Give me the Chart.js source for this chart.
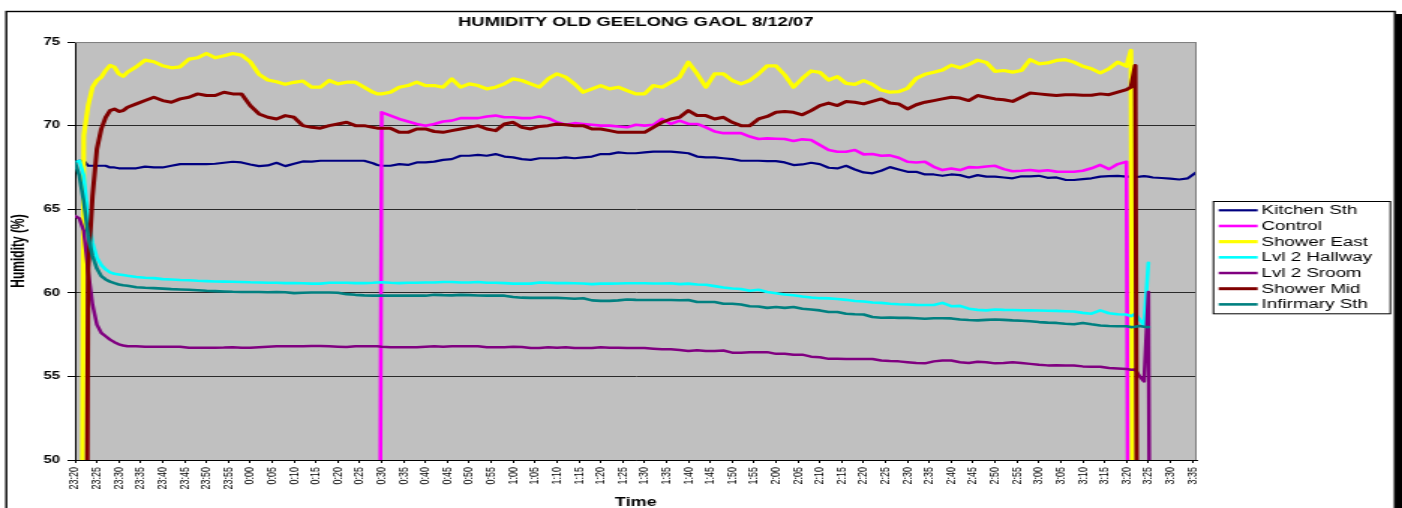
<!DOCTYPE html>
<html>
<head>
<meta charset="utf-8">
<title>Humidity Old Geelong Gaol 8/12/07</title>
<script src="https://cdn.jsdelivr.net/npm/chart.js@4.4.1/dist/chart.umd.min.js"></script>
<style>
    html, body { margin: 0; padding: 0; background: #fff; width: 1402px; height: 508px; overflow: hidden; }
    /* the original picture is a horizontally stretched Excel chart */
    #wrap { position: absolute; left: 0; top: 0; width: 935px; height: 524px; transform: scaleX(1.4995); transform-origin: 0 0; }
</style>
</head>
<body>
<div id="wrap"><canvas id="chart"></canvas></div>
<script>
(function() {
    'use strict';

    // minutes after 23:20
    const times = [
        0, 1, 2, 3, 4, 5, 6, 7, 8, 9, 10, 11, 12,
        14, 16, 18, 20, 22, 24, 26, 28, 30, 32, 34, 36, 38, 40, 42, 44, 46, 48, 50, 52,
        54, 56, 58, 60, 62, 64, 66, 68,
        69,
        70, 72, 74, 76, 78, 80, 82, 84, 86, 88, 90, 92, 94, 96, 98, 100, 102,
        104, 106, 108, 110, 112, 114, 116, 118, 120, 122, 124, 126, 128, 130, 132, 134, 136, 138, 140, 142, 144, 146, 148, 150, 152, 154, 156,
        158, 160, 162, 164, 166, 168, 170, 172, 174, 176, 178, 180, 182, 184, 186, 188, 190, 192, 194, 196, 198, 200, 202, 204, 206, 208,
        210, 212, 214, 216, 218, 220, 222, 224, 226, 228, 230, 232, 234, 236, 238, 240,
        241, 242, 243, 244, 245, 246,
        248, 250, 252, 254, 256
    ];

    const tickLabels = [
        '23:20', '23:25', '23:30', '23:35', '23:40', '23:45', '23:50', '23:55',
        '0:00', '0:05', '0:10', '0:15', '0:20', '0:25', '0:30', '0:35', '0:40', '0:45', '0:50', '0:55',
        '1:00', '1:05', '1:10', '1:15', '1:20', '1:25', '1:30', '1:35', '1:40', '1:45', '1:50', '1:55',
        '2:00', '2:05', '2:10', '2:15', '2:20', '2:25', '2:30', '2:35', '2:40', '2:45', '2:50', '2:55',
        '3:00', '3:05', '3:10', '3:15', '3:20', '3:25', '3:30', '3:35'
    ];

    const kitchenSth = [
        67.8, 67.9, 67.9, 67.6, 67.6, 67.6, 67.6, 67.6, 67.5, 67.5, 67.45, 67.45, 67.45,
        67.45, 67.55, 67.5, 67.5, 67.6, 67.7, 67.7, 67.7, 67.7, 67.72, 67.78, 67.84, 67.8, 67.68, 67.58, 67.62, 67.78, 67.58, 67.72, 67.86,
        67.85, 67.9, 67.9, 67.9, 67.9, 67.9, 67.9, 67.75,
        67.65,
        67.6, 67.6, 67.7, 67.65, 67.8, 67.8, 67.85, 67.95, 68.0, 68.2, 68.2, 68.25, 68.2, 68.3, 68.15, 68.1, 68.0,
        67.95, 68.05, 68.05, 68.05, 68.1, 68.05, 68.1, 68.15, 68.3, 68.3, 68.4, 68.35, 68.35, 68.4, 68.45, 68.45, 68.45, 68.4, 68.35, 68.15, 68.1, 68.1, 68.05, 68.0, 67.9, 67.9, 67.9,
        67.88, 67.88, 67.8, 67.64, 67.68, 67.78, 67.7, 67.48, 67.44, 67.6, 67.38, 67.2, 67.15, 67.3, 67.52, 67.38, 67.24, 67.24, 67.08, 67.08, 67.0, 67.08, 67.04, 66.9, 67.04, 66.95,
        66.95, 66.9, 66.85, 66.97, 66.97, 67.0, 66.88, 66.9, 66.76, 66.75, 66.8, 66.85, 66.95, 66.98, 67.0, 66.95,
        66.95, 66.93, 66.95, 66.98, 66.95, 66.9,
        66.87, 66.83, 66.78, 66.85, 67.22
    ];

    const control = [
        null, null, null, null, null, null, null, null, null, null, null, null, null,
        null, null, null, null, null, null, null, null, null, null, null, null, null, null, null, null, null, null, null, null,
        null, null, null, null, null, null, null, null,
        0,
        70.8, 70.6, 70.4, 70.25, 70.1, 70.0, 70.1, 70.25, 70.3, 70.45, 70.45, 70.45, 70.55, 70.6, 70.5, 70.5, 70.45,
        70.45, 70.55, 70.45, 70.2, 70.05, 70.15, 70.1, 70.05, 70.0, 70.0, 69.95, 69.9, 70.05, 70.0, 70.05, 70.4, 70.1, 70.3, 70.1, 70.1, 69.9, 69.65, 69.55, 69.55, 69.55, 69.35, 69.2,
        69.24, 69.22, 69.2, 69.08, 69.18, 69.14, 68.84, 68.54, 68.44, 68.44, 68.54, 68.28, 68.3, 68.2, 68.22, 68.08, 67.84, 67.8, 67.84, 67.54, 67.34, 67.44, 67.34, 67.52, 67.5, 67.56,
        67.6, 67.4, 67.27, 67.3, 67.35, 67.28, 67.33, 67.25, 67.24, 67.24, 67.3, 67.45, 67.65, 67.4, 67.7, 67.84,
        0, null, null, null, null, null,
        null, null, null, null, null
    ];

    const showerEast = [
        0, 0, 69.4, 71.2, 72.3, 72.7, 72.9, 73.3, 73.6, 73.5, 73.1, 72.95, 73.2,
        73.52, 73.92, 73.82, 73.58, 73.46, 73.52, 73.98, 74.06, 74.32, 74.06, 74.18, 74.32, 74.22, 73.82, 73.07, 72.73, 72.63, 72.47, 72.59, 72.67,
        72.3, 72.3, 72.7, 72.5, 72.6, 72.6, 72.3, 72.0,
        71.9,
        71.9, 72.0, 72.3, 72.4, 72.6, 72.4, 72.4, 72.3, 72.8, 72.3, 72.5, 72.4, 72.2, 72.3, 72.5, 72.8, 72.7,
        72.5, 72.3, 72.8, 73.1, 72.9, 72.5, 72.0, 72.2, 72.4, 72.2, 72.3, 72.1, 71.9, 71.9, 72.4, 72.3, 72.6, 72.9, 73.8, 73.1, 72.3, 73.1, 73.1, 72.7, 72.5, 72.7, 73.1,
        73.58, 73.58, 73.03, 72.3, 72.83, 73.27, 73.19, 72.73, 72.93, 72.53, 72.47, 72.7, 72.47, 72.13, 72.0, 72.03, 72.23, 72.83, 73.07, 73.19, 73.33, 73.62, 73.46, 73.66, 73.92, 73.78,
        73.25, 73.3, 73.2, 73.3, 73.95, 73.7, 73.75, 73.9, 73.95, 73.8, 73.55, 73.4, 73.15, 73.4, 73.8, 73.55,
        74.5, 0, null, null, null, null,
        null, null, null, null, null
    ];

    const lvl2Hallway = [
        67.8, 67.9, 67.0, 64.4, 63.0, 62.1, 61.66, 61.4, 61.22, 61.14, 61.1, 61.06, 61.02,
        60.95, 60.9, 60.88, 60.82, 60.8, 60.77, 60.75, 60.72, 60.7, 60.68, 60.67, 60.66, 60.65, 60.63, 60.62, 60.6, 60.6, 60.58, 60.58, 60.57,
        60.55, 60.55, 60.6, 60.6, 60.6, 60.58, 60.58, 60.6,
        60.62,
        60.63, 60.6, 60.58, 60.6, 60.6, 60.62, 60.62, 60.65, 60.65, 60.62, 60.62, 60.65, 60.6, 60.6, 60.58, 60.55, 60.55,
        60.55, 60.62, 60.6, 60.58, 60.58, 60.57, 60.56, 60.52, 60.55, 60.55, 60.56, 60.57, 60.57, 60.57, 60.56, 60.56, 60.57, 60.52, 60.55, 60.5, 60.48, 60.4, 60.32, 60.26, 60.23, 60.12, 60.18,
        60.05, 59.98, 59.9, 59.85, 59.78, 59.72, 59.68, 59.67, 59.63, 59.58, 59.51, 59.48, 59.42, 59.4, 59.35, 59.32, 59.3, 59.28, 59.27, 59.27, 59.4, 59.2, 59.22, 59.05, 58.98, 58.95,
        59.0, 58.98, 58.97, 58.96, 58.95, 58.94, 58.93, 58.92, 58.9, 58.88, 58.8, 58.75, 58.95, 58.78, 58.72, 58.7,
        58.6, 58.75, 58.4, 58.07, 61.8, null,
        null, null, null, null, null
    ];

    const lvl2Sroom = [
        64.6, 64.45, 63.7, 61.3, 59.3, 58.1, 57.6, 57.4, 57.2, 57.05, 56.92, 56.85, 56.8,
        56.8, 56.78, 56.78, 56.78, 56.78, 56.78, 56.72, 56.72, 56.72, 56.72, 56.73, 56.75, 56.72, 56.72, 56.75, 56.78, 56.8, 56.8, 56.8, 56.8,
        56.82, 56.82, 56.8, 56.78, 56.76, 56.8, 56.8, 56.8,
        56.8,
        56.78, 56.75, 56.75, 56.75, 56.75, 56.78, 56.8, 56.78, 56.8, 56.8, 56.8, 56.8, 56.75, 56.75, 56.75, 56.78, 56.76,
        56.7, 56.7, 56.75, 56.72, 56.75, 56.7, 56.7, 56.7, 56.75, 56.72, 56.72, 56.7, 56.7, 56.7, 56.66, 56.62, 56.62, 56.58, 56.52, 56.57, 56.52, 56.52, 56.55, 56.42, 56.42, 56.45, 56.44,
        56.45, 56.35, 56.35, 56.3, 56.3, 56.18, 56.15, 56.05, 56.05, 56.04, 56.04, 56.04, 56.04, 55.95, 55.92, 55.9, 55.85, 55.8, 55.78, 55.9, 55.95, 55.95, 55.85, 55.8, 55.88, 55.85,
        55.78, 55.8, 55.85, 55.8, 55.75, 55.7, 55.66, 55.67, 55.65, 55.65, 55.6, 55.58, 55.58, 55.5, 55.48, 55.45,
        55.4, 55.42, 55.0, 54.7, 60.05, 0,
        null, null, null, null, null
    ];

    const showerMid = [
        0, 0, 0, 61.5, 65.8, 68.6, 69.8, 70.5, 70.9, 71.0, 70.85, 70.9, 71.1,
        71.3, 71.5, 71.7, 71.5, 71.4, 71.6, 71.7, 71.9, 71.8, 71.8, 72.0, 71.9, 71.9, 71.2, 70.7, 70.5, 70.4, 70.6, 70.5, 70.0,
        69.9, 69.85, 70.0, 70.1, 70.2, 70.0, 70.0, 69.9,
        69.85,
        69.85, 69.85, 69.6, 69.6, 69.8, 69.8, 69.65, 69.6, 69.7, 69.8, 69.9, 70.0, 69.8, 69.7, 70.1, 70.2, 69.9,
        69.8, 69.95, 70.0, 70.1, 70.05, 70.0, 70.0, 69.8, 69.8, 69.7, 69.6, 69.6, 69.6, 69.6, 69.9, 70.2, 70.4, 70.5, 70.9, 70.6, 70.6, 70.4, 70.5, 70.2, 70.0, 70.0, 70.4,
        70.55, 70.8, 70.85, 70.8, 70.65, 70.9, 71.2, 71.35, 71.2, 71.45, 71.4, 71.3, 71.45, 71.6, 71.35, 71.3, 71.0, 71.25, 71.4, 71.5, 71.6, 71.7, 71.65, 71.5, 71.8, 71.7,
        71.6, 71.55, 71.45, 71.7, 71.95, 71.9, 71.85, 71.8, 71.85, 71.85, 71.82, 71.82, 71.9, 71.85, 72.0, 72.15,
        72.3, 73.6, 0, null, null, null,
        null, null, null, null, null
    ];

    const infirmarySth = [
        67.8, 67.0, 65.45, 63.4, 62.2, 61.45, 61.0, 60.8, 60.67, 60.58, 60.5, 60.45, 60.42,
        60.33, 60.3, 60.28, 60.25, 60.22, 60.2, 60.18, 60.15, 60.12, 60.1, 60.08, 60.06, 60.05, 60.05, 60.05, 60.03, 60.05, 60.03, 59.98, 60.0,
        60.02, 60.02, 60.02, 60.0, 59.92, 59.88, 59.85, 59.83,
        59.83,
        59.83, 59.83, 59.83, 59.83, 59.83, 59.83, 59.88, 59.86, 59.85, 59.88, 59.86, 59.84, 59.83, 59.83, 59.83, 59.75, 59.71,
        59.7, 59.7, 59.7, 59.7, 59.68, 59.65, 59.68, 59.55, 59.52, 59.52, 59.55, 59.6, 59.58, 59.57, 59.57, 59.57, 59.57, 59.56, 59.57, 59.45, 59.45, 59.45, 59.35, 59.35, 59.3, 59.2, 59.18,
        59.1, 59.15, 59.1, 59.15, 59.05, 59.0, 58.95, 58.85, 58.85, 58.75, 58.72, 58.7, 58.55, 58.51, 58.52, 58.5, 58.5, 58.48, 58.45, 58.48, 58.48, 58.47, 58.4, 58.37, 58.35, 58.38,
        58.4, 58.38, 58.35, 58.33, 58.3, 58.25, 58.22, 58.2, 58.15, 58.12, 58.2, 58.12, 58.05, 58.02, 58.0, 58.0,
        57.95, 57.97, 58.02, 57.97, 57.95, null,
        null, null, null, null, null
    ];

    const series = [
        { label: 'Kitchen Sth', values: kitchenSth, color: '#000080', width: 2.2 },
        { label: 'Control', values: control, color: '#ff00ff', width: 2.6 },
        { label: 'Shower East', values: showerEast, color: '#ffff00', width: 3.2 },
        { label: 'Lvl 2 Hallway', values: lvl2Hallway, color: '#00ffff', width: 2.6 },
        { label: 'Lvl 2 Sroom', values: lvl2Sroom, color: '#800080', width: 2.5 },
        { label: 'Shower Mid', values: showerMid, color: '#800000', width: 3 },
        { label: 'Infirmary Sth', values: infirmarySth, color: '#008080', width: 2.6 }
    ];

    const FONT = '"Liberation Sans", Arial, sans-serif';

    // white page, outer frame with shadow, grey plot area
    const excelBackground = {
        id: 'excelBackground',
        beforeDraw(chart) {
            const { ctx, chartArea: a, width, height } = chart;
            ctx.save();
            ctx.fillStyle = '#ffffff';
            ctx.fillRect(0, 0, width, height);
            ctx.strokeStyle = '#000';
            ctx.lineWidth = 1.4;
            ctx.strokeRect(4.2, 11.5, 926, height + 10);
            ctx.fillStyle = '#000';
            ctx.fillRect(930.6, 14, 6, height);
            ctx.fillStyle = '#c0c0c0';
            ctx.fillRect(a.left, a.top, a.right - a.left, a.bottom - a.top);
            ctx.restore();
        },
        afterDatasetsDraw(chart) {
            const { ctx, chartArea: a } = chart;
            ctx.save();
            ctx.strokeStyle = '#808080';
            ctx.lineWidth = 1;
            ctx.beginPath();
            ctx.moveTo(a.left, a.top + 0.5);
            ctx.lineTo(a.right - 0.5, a.top + 0.5);
            ctx.lineTo(a.right - 0.5, a.bottom);
            ctx.stroke();
            ctx.restore();
        }
    };

    // Excel style legend box on the right
    const excelLegend = {
        id: 'excelLegend',
        afterDraw(chart) {
            const { ctx } = chart;
            const box = { x: 808.7, y: 201, w: 118, h: 112.3 };
            ctx.save();
            ctx.fillStyle = '#ffffff';
            ctx.fillRect(box.x, box.y, box.w, box.h);
            ctx.strokeStyle = '#000';
            ctx.lineWidth = 1;
            ctx.strokeRect(box.x + 0.5, box.y + 0.5, box.w, box.h);
            ctx.font = '12.5px ' + FONT;
            ctx.textBaseline = 'middle';
            ctx.fillStyle = '#000';
            chart.data.datasets.forEach((ds, i) => {
                const y = 210.3 + i * 15.68;
                ctx.strokeStyle = ds.borderColor;
                ctx.lineWidth = ds.borderWidth;
                ctx.beginPath();
                ctx.moveTo(812.7, y);
                ctx.lineTo(838.7, y);
                ctx.stroke();
                ctx.fillText(ds.label, 841.3, y + 0.5);
            });
            ctx.restore();
        }
    };

    new Chart(document.getElementById('chart'), {
        type: 'line',
        data: {
            datasets: series.map((s, i) => ({
                label: s.label,
                data: times.map((t, j) => ({ x: t, y: s.values[j] })),
                borderColor: s.color,
                backgroundColor: s.color,
                borderWidth: s.width,
                pointRadius: 0,
                tension: 0,
                borderJoinStyle: 'round',
                borderCapStyle: 'round',
                order: series.length - i
            }))
        },
        options: {
            responsive: true,
            maintainAspectRatio: false,
            animation: false,
            events: [],
            layout: { padding: { left: 0, right: 137, top: 0, bottom: 0 } },
            plugins: {
                legend: { display: false },
                tooltip: { enabled: false },
                title: {
                    display: true,
                    text: 'HUMIDITY OLD GEELONG GAOL 8/12/07',
                    fullSize: false,
                    color: '#000',
                    font: { family: FONT, size: 12.3, weight: 'bold' },
                    padding: { top: 15, bottom: 12.3 }
                }
            },
            scales: {
                x: {
                    type: 'linear',
                    min: 0,
                    max: 256,
                    afterBuildTicks(scale) {
                        scale.ticks = tickLabels.map((t, i) => ({ value: i * 5 }));
                    },
                    afterFit(scale) {
                        scale.height = 64;
                    },
                    ticks: {
                        autoSkip: false,
                        minRotation: 90,
                        maxRotation: 90,
                        padding: 4,
                        color: '#000',
                        font: { family: FONT, size: 9 },
                        callback: (value, index) => tickLabels[index]
                    },
                    grid: { display: true, drawOnChartArea: false, drawTicks: true, tickLength: 3, tickColor: '#000' },
                    border: { display: true, color: '#000', width: 1 },
                    title: {
                        display: true,
                        text: 'Time',
                        color: '#000',
                        font: { family: FONT, size: 12, weight: 'bold' },
                        padding: { top: 0, bottom: 14 }
                    }
                },
                y: {
                    min: 50,
                    max: 75,
                    afterFit(scale) {
                        scale.width = 50;
                    },
                    ticks: {
                        stepSize: 5,
                        padding: 5,
                        color: '#000',
                        font: { family: FONT, size: 10, weight: 'bold' }
                    },
                    grid: {
                        color: (ctx) => (ctx.tick && ctx.tick.value === 75 ? '#808080' : '#2a2a2a'),
                        lineWidth: 1,
                        drawTicks: true,
                        tickLength: 5,
                        tickColor: '#000'
                    },
                    border: { display: true, color: '#000', width: 1 },
                    title: {
                        display: true,
                        text: 'Humidity (%)',
                        color: '#000',
                        font: { family: FONT, size: 12, weight: 'bold' },
                        padding: { top: 5, bottom: 0 }
                    }
                }
            }
        },
        plugins: [excelBackground, excelLegend]
    });
})();
</script>
</body>
</html>
